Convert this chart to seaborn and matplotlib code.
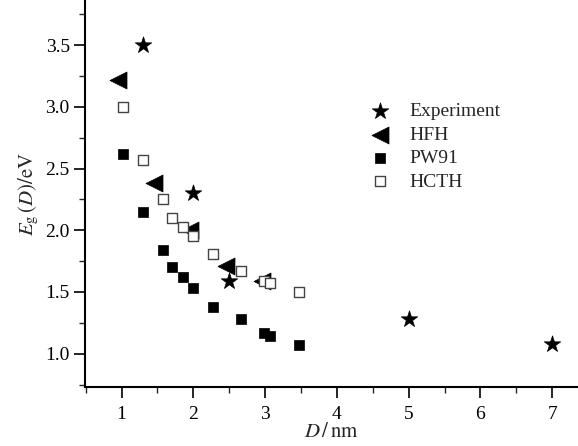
import numpy as np
import pandas as pd
import matplotlib
matplotlib.use("Agg")
import matplotlib.pyplot as plt
import seaborn as sns
from matplotlib.ticker import MultipleLocator

# values
exp_d = [1.3, 2.0, 2.5, 5.0, 7.0]
exp_e = [3.50, 2.30, 1.59, 1.28, 1.08]

hfh_d = [0.95, 1.45, 1.95, 2.45, 2.95]
hfh_e = [3.22, 2.38, 2.00, 1.71, 1.59]

pw91_d = [1.02, 1.30, 1.58, 1.70, 1.86, 2.00, 2.27, 2.67, 2.98, 3.07, 3.47]
pw91_e = [2.62, 2.15, 1.84, 1.70, 1.62, 1.53, 1.38, 1.28, 1.17, 1.14, 1.07]

hcth_d = [1.02, 1.30, 1.58, 1.70, 1.86, 2.00, 2.27, 2.67, 2.98, 3.07, 3.47]
hcth_e = [3.00, 2.57, 2.25, 2.10, 2.03, 1.95, 1.81, 1.67, 1.59, 1.57, 1.50]

sns.set_style("ticks")
plt.rcParams["font.family"] = ["Liberation Serif", "DejaVu Serif"]
plt.rcParams["mathtext.fontset"] = "stix"
plt.rcParams["font.size"] = 14

fig = plt.figure(figsize=(5.78, 4.46), dpi=100)
ax = fig.add_axes([85 / 578, 59 / 446, 1 - 85 / 578, 1 - 59 / 446])

sns.scatterplot(x=exp_d, y=exp_e, ax=ax, marker="*", s=155, color="black",
                edgecolor="black", linewidth=0.5, label="Experiment", zorder=3)
sns.scatterplot(x=hfh_d, y=hfh_e, ax=ax, marker="<", s=150, color="black",
                edgecolor="black", linewidth=0.5, label="HFH", zorder=3)
sns.scatterplot(x=pw91_d, y=pw91_e, ax=ax, marker="s", s=52, color="black",
                edgecolor="black", linewidth=0.5, label="PW91", zorder=3)
sns.scatterplot(x=hcth_d, y=hcth_e, ax=ax, marker="s", s=52, color="white",
                edgecolor="#444444", linewidth=1.0, label="HCTH", zorder=4)

ax.set_xlim(0.49, 7.36)
ax.set_ylim(0.73, 3.865)
ax.xaxis.set_minor_locator(MultipleLocator(0.5))
ax.yaxis.set_minor_locator(MultipleLocator(0.25))
ax.set_xticks([1, 2, 3, 4, 5, 6, 7])
ax.set_yticks([1.0, 1.5, 2.0, 2.5, 3.0, 3.5])
ax.set_yticklabels(["1.0", "1.5", "2.0", "2.5", "3.0", "3.5"])
ax.tick_params(which="major", direction="out", length=8, width=1.2, labelsize=14, colors="black")
ax.tick_params(axis="x", which="major", pad=6)
ax.tick_params(axis="y", which="major", pad=3)
ax.tick_params(which="minor", direction="out", length=4, width=1.0)

sns.despine(ax=ax)
for side in ["left", "bottom"]:
    ax.spines[side].set_linewidth(1.5)
    ax.spines[side].set_color("black")

ax.set_xlabel(r"$D\,/\,\mathrm{nm}$", fontsize=15, labelpad=0)
ax.set_ylabel(r"$E_{\mathrm{g}}\,(D)/\mathrm{eV}$", fontsize=15, labelpad=3)

ax.legend(loc="upper left", bbox_to_anchor=(0.543, 0.78), frameon=False,
          handlelength=1.0, handletextpad=1.0, labelspacing=0.3, fontsize=14)

fig.savefig("out.png", dpi=100)
